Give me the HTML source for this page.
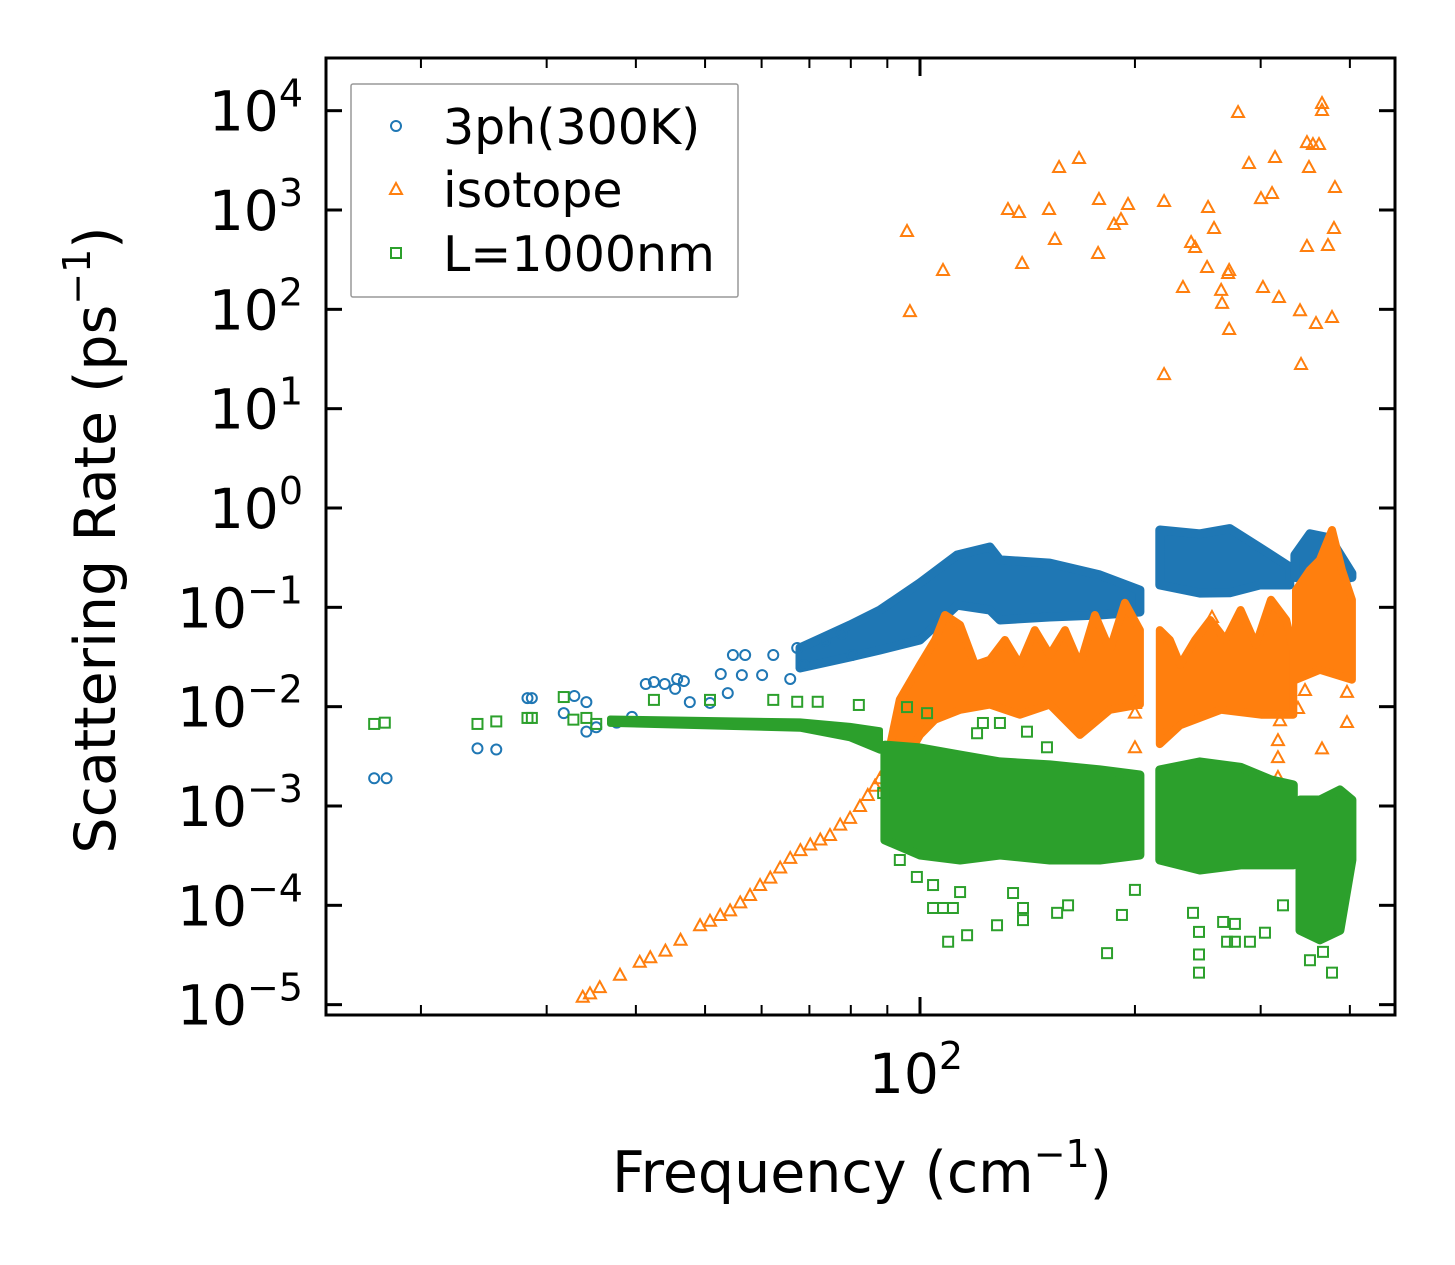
<!DOCTYPE html>
<html><head><meta charset="utf-8"><style>
html,body{margin:0;padding:0;background:#fff;}
svg{display:block;font-family:"DejaVu Sans","Liberation Sans",sans-serif;}
</style></head><body>
<svg id="chart" width="1455" height="1265" viewBox="0 0 1455 1265" xmlns="http://www.w3.org/2000/svg">
<rect width="1455" height="1265" fill="#fff"/>
<g id="plot"></g>
<g id="axes"></g>
<g>
<rect x="351" y="84" width="387" height="213" fill="#fff" fill-opacity="0.8" stroke="#999" stroke-width="1.5" rx="2"/>
<g><circle cx="396" cy="126" r="5" fill="none" stroke="#1f77b4" stroke-width="2"/><text x="443" y="144" font-size="49">3ph(300K)</text></g>
<g><polygon points="396,183 402,194 390,194" fill="none" stroke="#ff7f0e" stroke-width="2"/><text x="443" y="207" font-size="49">isotope</text></g>
<g><rect x="391" y="248" width="10" height="10" fill="none" stroke="#2ca02c" stroke-width="2"/><text x="443" y="271" font-size="49">L=1000nm</text></g>
</g>
<text x="862" y="1192" font-size="57" text-anchor="middle">Frequency (cm<tspan dy="-25" font-size="38">−1</tspan><tspan dy="25">)</tspan></text>
<text transform="translate(115,540) rotate(-90)" font-size="57" text-anchor="middle">Scattering Rate (ps<tspan dy="-25" font-size="38">−1</tspan><tspan dy="25">)</tspan></text>
</svg>
<script>
// ---- data ----
const blueF=[17.2,17.9,24.0,25.5,28.2,28.6,31.7,32.8,34.1,34.1,35.2,37.6,39.5,41.3,42.4,43.9,45.4,45.7,46.7,47.6,50.8,52.6,53.8,54.7,56.9,56.3,60.1,62.3,65.8,67.3,68.8,73.6,77.7,80.3];
const blueV=[0.0019,0.0019,0.0038,0.0037,0.0122,0.0122,0.0086,0.0128,0.0111,0.0056,0.0062,0.0069,0.0079,0.0169,0.0177,0.0169,0.0151,0.019,0.0181,0.0111,0.0109,0.0213,0.0137,0.0331,0.0331,0.0208,0.0208,0.0331,0.019,0.039,0.0263,0.0458,0.054,0.0331];
const blueBand1F=[67.9,79.8,87.9,100,112.7,125.3,129.4,152,178.6,203.2];
const blueBand1Hi=[0.039,0.0664,0.094,0.176,0.336,0.405,0.30,0.279,0.212,0.149];
const blueBand1Lo=[0.0245,0.0316,0.0372,0.0469,0.105,0.094,0.0745,0.080,0.0837,0.0898];
const blueBand2F=[216.7,246.6,271.6,299.2,329.6];
const blueBand2Hi=[0.60,0.55,0.62,0.40,0.255];
const blueBand2Lo=[0.168,0.139,0.14,0.168,0.168];
const blueBand3F=[335,351.6,375.1,402.6];
const blueBand3Hi=[0.336,0.55,0.50,0.22];
const blueBand3Lo=[0.20,0.19,0.18,0.20];

const orangeF=[33.7,34.5,35.6,38.0,40.5,41.9,44.0,46.2,49.2,50.8,52.5,54.2,56.0,57.8,59.7,61.7,63.7,65.8,68.0,70.2,72.5,74.8,77.3,79.8,82.4,84.5,86.5,87.9,89.3,91.6,
 95.9,107.7,96.8,132.8,137.6,151.6,156.6,167.0,154.5,139.0,178.1,195.6,191.2,186.9,177.6,219.7,219.7,253.2,258.1,239.7,242.8,252.4,271.0,270.1,233.5,264.1,264.9,271.0,278.9,288.9,314.2,300.3,311.2,302.2,318.2,340.6,358.6,377.6,341.7,348.3,372.7,380.0,381.2,350.6,348.3,355.1,362.1,365.6,365.6,
 200,200,200,256.4,317.2,317.2,319.3,346.1,338.4,365.6,396.3,396.3,317.2];
const orangeV=[1.2e-5,1.3e-5,1.5e-5,2.0e-5,2.7e-5,3.0e-5,3.5e-5,4.5e-5,6.3e-5,7.0e-5,8.0e-5,8.9e-5,1.07e-4,1.27e-4,1.6e-4,1.9e-4,2.4e-4,3.0e-4,3.6e-4,4.1e-4,4.6e-4,5.1e-4,6.5e-4,7.6e-4,1.0e-3,1.29e-3,1.6e-3,1.9e-3,2.3e-3,3.2e-3,
 615,249,96,1023,955,1023,2710,3340,511,293,1290,1150,811,723,369,1231,22.3,1072,659,476,424,267,249,232,168,157,116,63.4,9690,2970,3415,1318,1482,168,133,98,72.8,83.7,28.2,434,444,659,1703,2710,4830,4613,4613,11940,10160,
 0.0109,0.0087,0.0039,0.080,0.0046,0.0031,0.0073,0.0147,0.0097,0.0038,0.0070,0.0141,0.00196];
const orangeBand1TopF=[89.3,93.7,100,105,108.4,113.8,119.4,125.3,131.5,138.0,144.8,152.0,159.6,167.5,175.8,184.5,193.6,203.2];
const orangeBand1TopV=[0.0023,0.0118,0.0263,0.0469,0.0837,0.0664,0.0263,0.0296,0.0469,0.0263,0.059,0.0331,0.059,0.0263,0.0837,0.0372,0.111,0.059];
const orangeBand1BotF=[89.3,93.7,100,105,113.8,125.3,138.0,152.0,167.5,184.5,203.2];
const orangeBand1BotV=[0.00145,0.0023,0.0052,0.0074,0.0093,0.0105,0.0083,0.0105,0.0052,0.0093,0.0105];
const orangeBand2TopF=[216.7,223.9,231.4,242.8,255.0,267.8,281.2,295.4,310.2,325.8,333.3];
const orangeBand2TopV=[0.059,0.0469,0.0263,0.0469,0.0745,0.0469,0.094,0.042,0.119,0.0745,0.037];
const orangeBand2BotF=[216.7,231.4,264.1,300.3,333.3];
const orangeBand2BotV=[0.0042,0.0065,0.0093,0.0083,0.0083];
const orangeBand3TopF=[336.2,351.6,363.1,377.6,389.9,402.6];
const orangeBand3TopV=[0.149,0.238,0.30,0.60,0.238,0.119];
const orangeBand3BotF=[336.2,363.1,402.6];
const orangeBand3BotV=[0.0187,0.0235,0.0187];

const greenF=[17.2,17.8,24.0,25.5,28.2,28.6,31.7,32.7,34.1,35.2,42.4,50.8,62.3,67.3,71.9,82.1,
 99.0,104.3,104.3,107.7,111.2,113.8,109.5,116.4,128.2,139.4,139.4,135.0,155.6,161.2,182.8,191.8,200.0,245.9,245.9,245.9,269.2,276.1,289.8,304.2,276.1,265.8,351.7,377.6,366.8,322.4,241.2,93.7,88.8,95.9,102.3,122.5,129.4,141.2,150.6,120.2];
const greenV=[0.0067,0.0069,0.0067,0.0071,0.0077,0.0077,0.0125,0.0074,0.0077,0.0067,0.0117,0.0117,0.0117,0.0112,0.0112,0.0104,
 1.93e-4,1.6e-4,9.4e-5,9.4e-5,9.4e-5,1.36e-4,4.3e-5,5.0e-5,6.3e-5,9.4e-5,7.1e-5,1.33e-4,8.4e-5,1.0e-4,3.3e-5,8.0e-5,1.43e-4,5.4e-5,3.2e-5,2.1e-5,4.3e-5,4.3e-5,4.3e-5,5.3e-5,6.5e-5,6.8e-5,2.8e-5,2.1e-5,3.4e-5,1.0e-4,8.4e-5,2.86e-4,1.35e-3,9.9e-3,8.6e-3,6.85e-3,6.85e-3,5.6e-3,3.9e-3,5.4e-3];
const greenFlatF=[36.8,67.9,79.8,87.9];
const greenFlatHi=[0.0076,0.0071,0.0064,0.0058];
const greenFlatLo=[0.0067,0.0060,0.0048,0.0036];
const greenBand1F=[89.3,100,113.8,129.4,152,178.6,203.2];
const greenBand1Hi=[0.0041,0.00384,0.00326,0.00278,0.00259,0.00231,0.00205];
const greenBand1Lo=[0.000455,0.000321,0.000286,0.000321,0.000286,0.000286,0.000321];
const greenBand2F=[216.7,246.6,281.2,310.2,333.3];
const greenBand2Hi=[0.00231,0.00278,0.00245,0.00183,0.00163];
const greenBand2Lo=[0.000286,0.000227,0.000255,0.000255,0.000255];
const greenBand3F=[340.6,363.1,387.3,402.6];
const greenBand3Hi=[0.00115,0.00115,0.00145,0.00115];
const greenBand3Lo=[5.6e-5,4.5e-5,5.6e-5,0.000286];

const yTickExps=[4,3,2,1,0,-1,-2,-3,-4,-5];
const xMinorTicks=[20,30,40,50,60,70,80,90,200,300,400];
const xMajorTicks=[100];

// ---- scales ----
const NS='http://www.w3.org/2000/svg';
const PL=326,PR=1395,PT=58,PB=1015;
function xs(f){return 920+714*(Math.log10(f)-2);}
function ys(v){return 508-99.33*Math.log10(v);}
const plot=document.getElementById('plot');
const axes=document.getElementById('axes');
function mk(tag,attrs,parent){const e=document.createElementNS(NS,tag);for(const k in attrs)e.setAttribute(k,attrs[k]);parent.appendChild(e);return e;}

function band(F,Hi,Lo,color,name,sw){
  const pts=[];
  for(let i=0;i<F.length;i++)pts.push(xs(F[i]).toFixed(1)+','+ys(Hi[i]).toFixed(1));
  for(let i=F.length-1;i>=0;i--)pts.push(xs(F[i]).toFixed(1)+','+ys(Lo[i]).toFixed(1));
  const p=mk('polygon',{points:pts.join(' '),fill:color,stroke:color,'stroke-width':sw||9,'stroke-linejoin':'round'},plot);
  
  
}
function band2(TF,TV,BF,BV,color,name){
  const pts=[];
  for(let i=0;i<TF.length;i++)pts.push(xs(TF[i]).toFixed(1)+','+ys(TV[i]).toFixed(1));
  for(let i=BF.length-1;i>=0;i--)pts.push(xs(BF[i]).toFixed(1)+','+ys(BV[i]).toFixed(1));
  const p=mk('polygon',{points:pts.join(' '),fill:color,stroke:color,'stroke-width':8,'stroke-linejoin':'round'},plot);
  
  
}
const BL='#1f77b4',OR='#ff7f0e',GR='#2ca02c';
band(blueBand1F,blueBand1Hi,blueBand1Lo,BL,'3ph-band-1');
band(blueBand2F,blueBand2Hi,blueBand2Lo,BL,'3ph-band-2');
band(blueBand3F,blueBand3Hi,blueBand3Lo,BL,'3ph-band-3');
for(let i=0;i<blueF.length;i++){
  const c=mk('circle',{cx:xs(blueF[i]),cy:ys(blueV[i]),r:5,fill:'none',stroke:BL,'stroke-width':2},plot);
  
  
}
band2(orangeBand1TopF,orangeBand1TopV,orangeBand1BotF,orangeBand1BotV,OR,'isotope-band-1');
band2(orangeBand2TopF,orangeBand2TopV,orangeBand2BotF,orangeBand2BotV,OR,'isotope-band-2');
band2(orangeBand3TopF,orangeBand3TopV,orangeBand3BotF,orangeBand3BotV,OR,'isotope-band-3');
for(let i=0;i<orangeF.length;i++){
  const x=xs(orangeF[i]),y=ys(orangeV[i]);
  const t=mk('polygon',{points:`${x},${y-6} ${x+6},${y+5} ${x-6},${y+5}`,fill:'none',stroke:OR,'stroke-width':2},plot);
  
  
}
band(greenFlatF,greenFlatHi,greenFlatLo,GR,'boundary-flat-band',6);
band(greenBand1F,greenBand1Hi,greenBand1Lo,GR,'boundary-band-1');
band(greenBand2F,greenBand2Hi,greenBand2Lo,GR,'boundary-band-2');
band(greenBand3F,greenBand3Hi,greenBand3Lo,GR,'boundary-band-3');
for(let i=0;i<greenF.length;i++){
  const x=xs(greenF[i]),y=ys(greenV[i]);
  const s=mk('rect',{x:x-5,y:y-5,width:10,height:10,fill:'none',stroke:GR,'stroke-width':2},plot);
  
  
}
const fr=mk('rect',{x:PL,y:PT,width:PR-PL,height:PB-PT,fill:'none',stroke:'#000','stroke-width':3},axes);


for(const e of yTickExps){
  const y=ys(Math.pow(10,e));
  mk('line',{x1:PL,x2:PL+16,y1:y,y2:y,stroke:'#000','stroke-width':3},axes);
  mk('line',{x1:PR-16,x2:PR,y1:y,y2:y,stroke:'#000','stroke-width':3},axes);
  const t=mk('text',{x:303,y:y+20,'font-size':55,'text-anchor':'end'},axes);
  
  
  t.textContent='10';
  const sup=mk('tspan',{dy:-24,'font-size':38},t);
  sup.textContent=(e<0?'\u2212'+(-e):String(e));
}
for(const f of xMinorTicks){
  const x=xs(f);
  mk('line',{x1:x,x2:x,y1:PB,y2:PB-10,stroke:'#000','stroke-width':2},axes);
  mk('line',{x1:x,x2:x,y1:PT,y2:PT+10,stroke:'#000','stroke-width':2},axes);
}
for(const f of xMajorTicks){
  const x=xs(f);
  mk('line',{x1:x,x2:x,y1:PB,y2:PB-18,stroke:'#000','stroke-width':3},axes);
  mk('line',{x1:x,x2:x,y1:PT,y2:PT+18,stroke:'#000','stroke-width':3},axes);
  const t=mk('text',{x:x-4,y:1093,'font-size':55,'text-anchor':'middle'},axes);
  
  
  t.textContent='10';
  const sup=mk('tspan',{dy:-24,'font-size':38},t);
  sup.textContent=String(Math.round(Math.log10(f)));
}
</script>
</body></html>
